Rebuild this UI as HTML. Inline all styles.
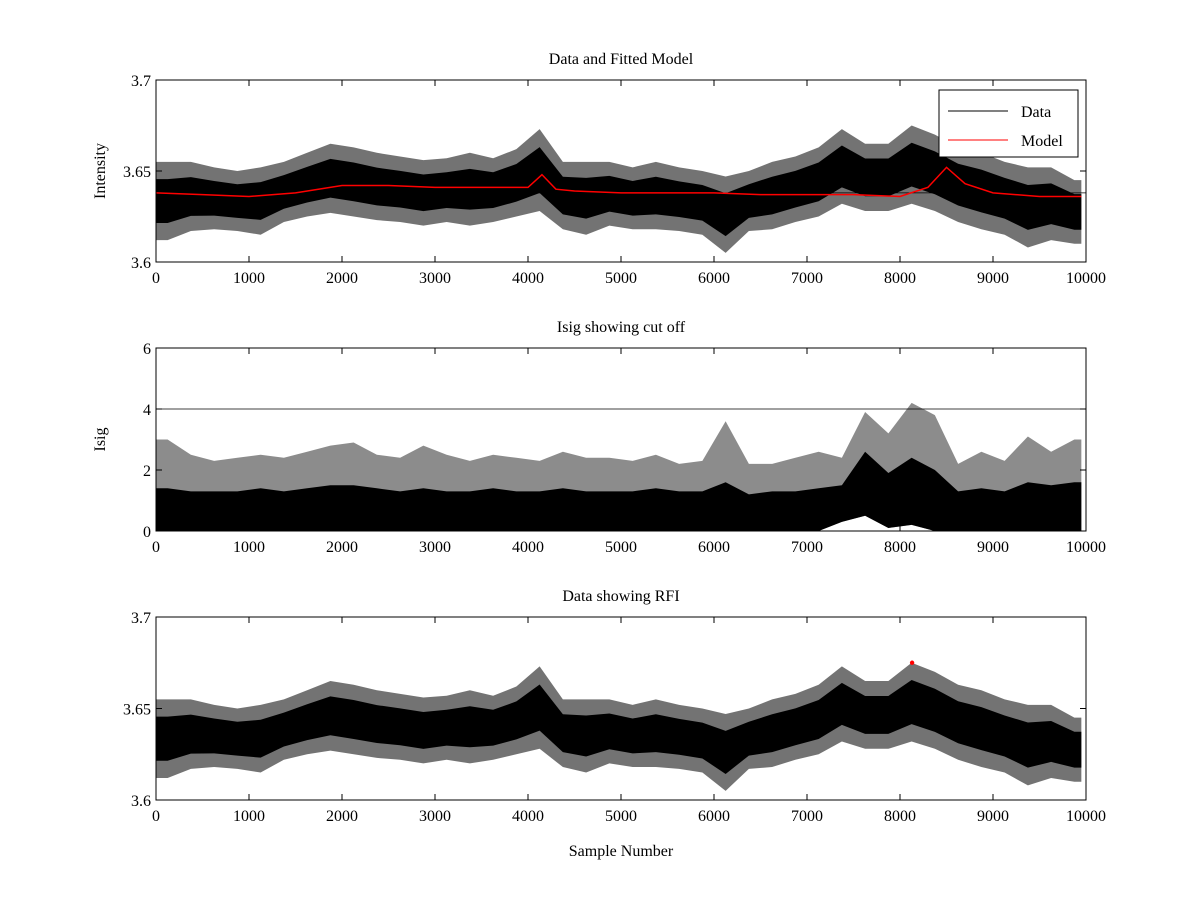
<!DOCTYPE html>
<html><head><meta charset="utf-8"><style>
html,body{margin:0;padding:0;background:#fff;width:1200px;height:900px;overflow:hidden}
svg text{font-family:"Liberation Serif",serif;font-size:16px;fill:#000}
</style></head><body>
<svg id="fig" width="1200" height="900" xmlns="http://www.w3.org/2000/svg"></svg>
<script>
const binStart=[0,250,500,750,1000,1250,1500,1750,2000,2250,2500,2750,3000,3250,3500,3750,4000,4250,4500,4750,5000,5250,5500,5750,6000,6250,6500,6750,7000,7250,7500,7750,8000,8250,8500,8750,9000,9250,9500,9750];
const dataMax=[3.655,3.655,3.652,3.650,3.652,3.655,3.660,3.665,3.663,3.660,3.658,3.656,3.657,3.660,3.657,3.662,3.673,3.655,3.655,3.655,3.652,3.655,3.652,3.650,3.647,3.650,3.655,3.658,3.663,3.673,3.665,3.665,3.675,3.670,3.663,3.660,3.655,3.652,3.652,3.645];
const dataMin=[3.612,3.617,3.618,3.617,3.615,3.622,3.625,3.627,3.625,3.623,3.622,3.620,3.622,3.620,3.622,3.625,3.628,3.618,3.615,3.620,3.618,3.618,3.617,3.615,3.605,3.617,3.618,3.622,3.625,3.632,3.628,3.628,3.632,3.628,3.622,3.618,3.615,3.608,3.612,3.610];
const modelX=[0,500,1000,1500,2000,2500,3000,3500,4000,4150,4300,4500,5000,5500,6000,6500,7000,7500,8000,8300,8500,8700,9000,9500,9950];
const modelY=[3.638,3.637,3.636,3.638,3.642,3.642,3.641,3.641,3.641,3.648,3.640,3.639,3.638,3.638,3.638,3.637,3.637,3.637,3.636,3.641,3.652,3.643,3.638,3.636,3.636];
const isigMax=[3.0,2.5,2.3,2.4,2.5,2.4,2.6,2.8,2.9,2.5,2.4,2.8,2.5,2.3,2.5,2.4,2.3,2.6,2.4,2.4,2.3,2.5,2.2,2.3,3.6,2.2,2.2,2.4,2.6,2.4,3.9,3.2,4.2,3.8,2.2,2.6,2.3,3.1,2.6,3.0];
const isigCore=[1.4,1.3,1.3,1.3,1.4,1.3,1.4,1.5,1.5,1.4,1.3,1.4,1.3,1.3,1.4,1.3,1.3,1.4,1.3,1.3,1.3,1.4,1.3,1.3,1.6,1.2,1.3,1.3,1.4,1.5,2.6,1.9,2.4,2.0,1.3,1.4,1.3,1.6,1.5,1.6];
const isigMin=[0,0,0,0,0,0,0,0,0,0,0,0,0,0,0,0,0,0,0,0,0,0,0,0,0,0,0,0,0,0.3,0.5,0.1,0.2,0,0,0,0,0,0,0];
const cutoff=4;
const meanLevel=3.638;
const rfiX=[8130];const rfiY=[3.675];
const xTicks=[0,1000,2000,3000,4000,5000,6000,7000,8000,9000,10000];
const yTicksI=[3.6,3.65,3.7];const yTicksS=[0,2,4,6];

const NS="http://www.w3.org/2000/svg",svg=document.getElementById('fig');
function el(t,a,p){const e=document.createElementNS(NS,t);for(const k in a)e.setAttribute(k,a[k]);(p||svg).appendChild(e);return e;}
const X0=156,X1=1086;
function sx(v){return X0+(v/10000)*(X1-X0);}
function mkY(top,bot,lo,hi){return v=>bot-(v-lo)/(hi-lo)*(bot-top);}
function axes(name,top,bot,lo,hi,ticks,fmt,title,ylabel,xlabel){
  const g=el('g',{});
  el('rect',{x:X0,y:top,width:X1-X0,height:bot-top,fill:'#fff',stroke:'none'},g);
  const sy=mkY(top,bot,lo,hi);
  return {g,sy,finish(){
    el('rect',{x:X0,y:top,width:X1-X0,height:bot-top,fill:'none',stroke:'#000','stroke-width':1},g);
    xTicks.forEach(t=>{const x=sx(t);el('line',{x1:x,x2:x,y1:bot,y2:bot-6,stroke:'#000'},g);el('line',{x1:x,x2:x,y1:top,y2:top+6,stroke:'#000'},g);
      const tx=el('text',{x:x,y:bot+21,'text-anchor':'middle'},g);tx.textContent=t;});
    ticks.forEach(t=>{const y=sy(t);el('line',{x1:X0,x2:X0+6,y1:y,y2:y,stroke:'#000'},g);el('line',{x1:X1,x2:X1-6,y1:y,y2:y,stroke:'#000'},g);
      const tx=el('text',{x:X0-5,y:y+6,'text-anchor':'end'},g);tx.textContent=fmt(t);});
    const tt=el('text',{x:(X0+X1)/2,y:top-16,'text-anchor':'middle'},g);tt.textContent=title;
    const yl=el('text',{x:0,y:0,'text-anchor':'middle',transform:`translate(${X0-51},${(top+bot)/2}) rotate(-90)`},g);yl.textContent=ylabel;
    if(xlabel){const xl=el('text',{x:(X0+X1)/2,y:bot+56,'text-anchor':'middle'},g);xl.textContent=xlabel;}
  }};
}
function cx(i){return sx(Math.min(binStart[i]+125,9950));}
function band(g,sy,hi,lo,name,op){
  const n=binStart.length;let pts=[[sx(0),sy(hi[0])]];
  for(let i=0;i<n;i++)pts.push([cx(i),sy(hi[i])]);
  pts.push([sx(9950),sy(hi[n-1])]);pts.push([sx(9950),sy(lo[n-1])]);
  for(let i=n-1;i>=0;i--)pts.push([cx(i),sy(lo[i])]);
  pts.push([sx(0),sy(lo[0])]);
  const p=el('polygon',{points:pts.map(q=>q.join(',')).join(' '),fill:'#000','fill-opacity':op,stroke:'none'},g);
  
}
function dataBands(g,sy,name){
  band(g,sy,dataMax,dataMin,name+'-envelope',0.55);
  const cHi=dataMax.map((v,i)=>v-(v-dataMin[i])*0.22);
  const cLo=dataMin.map((v,i)=>v+(dataMax[i]-v)*0.22);
  band(g,sy,cHi,cLo,name,1);
}
const f2=v=>v===3.65?'3.65':(v===3.6?'3.6':'3.7');
// plot 1
const a1=axes('data-fitted-axes',80,262,3.6,3.7,yTicksI,f2,'Data and Fitted Model','Intensity');
dataBands(a1.g,a1.sy,'data-series');
const ml=el('line',{x1:X0,x2:X1,y1:a1.sy(meanLevel),y2:a1.sy(meanLevel),stroke:'#000','stroke-width':0.8},a1.g);

const mp=el('polyline',{points:modelX.map((x,i)=>sx(x)+','+a1.sy(modelY[i])).join(' '),fill:'none',stroke:'#f00','stroke-width':1.5},a1.g);

a1.finish();
const lg=el('g',{},a1.g);
el('rect',{x:939,y:90,width:139,height:67,fill:'#fff',stroke:'#000'},lg);
el('line',{x1:948,x2:1008,y1:111,y2:111,stroke:'#000'},lg);
el('line',{x1:948,x2:1008,y1:140,y2:140,stroke:'#f00'},lg);
let t=el('text',{x:1021,y:117},lg);t.textContent='Data';
t=el('text',{x:1021,y:146},lg);t.textContent='Model';
// plot 2
const a2=axes('isig-axes',348,531,0,6,yTicksS,v=>String(v),'Isig showing cut off','Isig');
band(a2.g,a2.sy,isigMax,isigMin,'isig-envelope',0.45);
band(a2.g,a2.sy,isigCore,isigMin,'isig-series',1);
const cl=el('line',{x1:X0,x2:X1,y1:a2.sy(cutoff),y2:a2.sy(cutoff),stroke:'#000','stroke-width':0.8},a2.g);

a2.finish();
// plot 3
const a3=axes('rfi-axes',617,800,3.6,3.7,yTicksI,f2,'Data showing RFI','','Sample Number');
dataBands(a3.g,a3.sy,'rfi-data-series');
rfiX.forEach((x,i)=>{const c=el('circle',{cx:sx(x),cy:a3.sy(rfiY[i]),r:2.2,fill:'#f00'},a3.g);});
a3.finish();
</script>
</body></html>
